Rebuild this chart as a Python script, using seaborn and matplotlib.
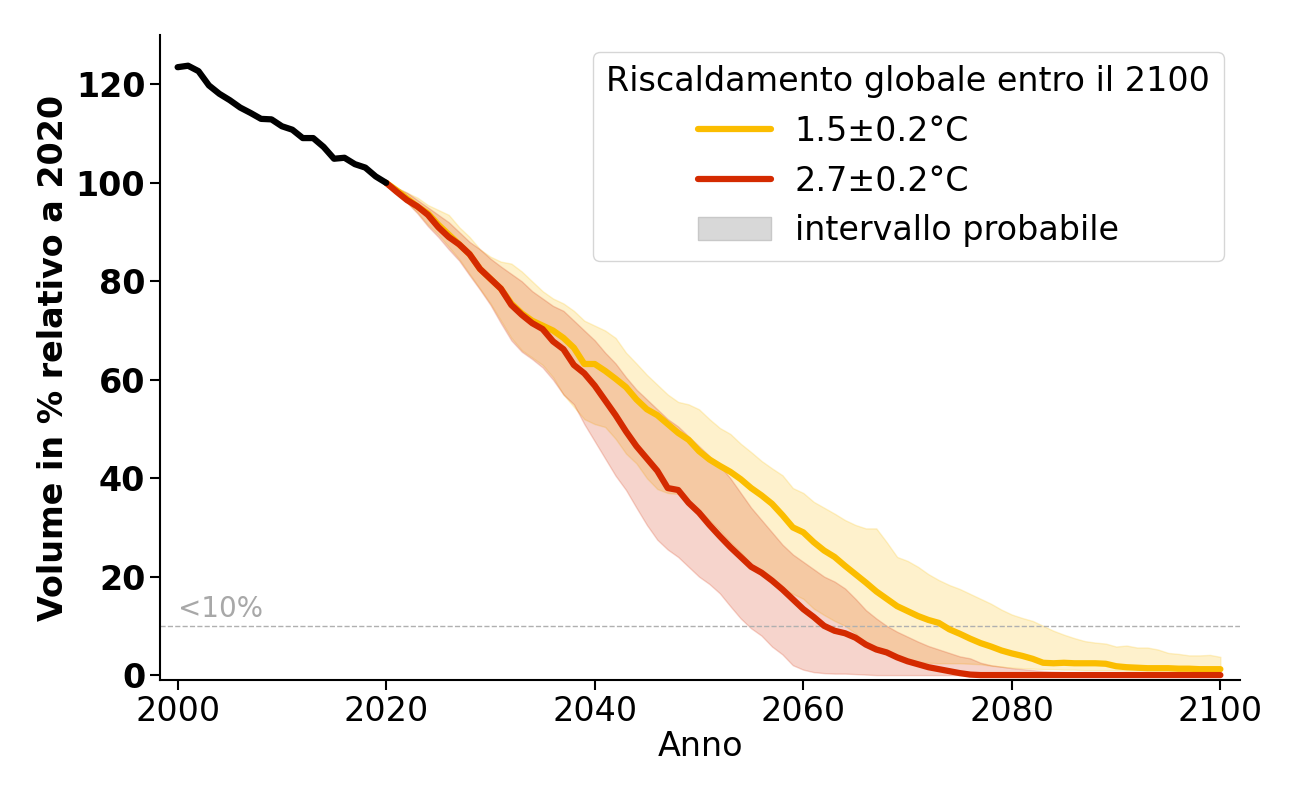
import matplotlib
matplotlib.use("Agg")
import matplotlib.pyplot as plt
from matplotlib.lines import Line2D
from matplotlib.patches import Patch
import seaborn as sns
import pandas as pd

# historical volume (2000-2020)
hist_years = list(range(2000, 2021))
hist_vol = [123.5, 123.8, 122.7, 119.8, 118.1, 116.8, 115.3, 114.2, 113.0, 112.9,
            111.5, 110.8, 109.1, 109.1, 107.3, 104.9, 105.1, 103.8, 103.1, 101.3, 100.0]

# projections (2020-2100)
proj_years = list(range(2020, 2101))

low_mid = [100, 98.5, 96.8, 95.2, 93.8, 91.5, 89.5, 87.5, 85.5, 82.5,
           80.5, 78.5, 75.5, 73.5, 72, 71, 70, 68.5, 66.5, 63.2,
           63.2, 61.8, 60.2, 58.5, 56, 54, 52.8, 51, 49.2, 47.8,
           45.5, 43.8, 42.5, 41.3, 39.8, 38, 36.5, 34.8, 32.5, 30,
           29, 27, 25.3, 24, 22.2, 20.5, 18.8, 17, 15.5, 14,
           13, 12, 11.2, 10.6, 9.3, 8.4, 7.4, 6.5, 5.8, 5,
           4.4, 3.9, 3.3, 2.5, 2.4, 2.5, 2.4, 2.4, 2.4, 2.3,
           1.8, 1.6, 1.5, 1.4, 1.4, 1.4, 1.3, 1.3, 1.2, 1.2, 1.2]
low_hi = [100, 99, 98, 97, 95.5, 94.5, 93.5, 91, 89, 86.5,
          85, 84, 83.6, 82, 80, 78, 76.5, 75.5, 74, 72,
          71, 70, 68.5, 65.5, 63.3, 61, 59, 57, 55.5, 55,
          54, 52, 50.2, 49, 47, 45.3, 43.5, 42, 40.6, 38,
          37, 35.2, 34, 32.8, 31.5, 30.5, 29.8, 29.8, 27, 24,
          23.2, 22, 20.5, 19.3, 18.3, 17.5, 16.5, 15.5, 14.5, 13.3,
          12.3, 11.6, 11, 10, 9, 8.2, 7.5, 6.9, 6.6, 6.4,
          5.8, 6, 5.6, 5.6, 5.2, 4.5, 4.3, 4, 4, 4.1, 3.7]
low_lo = [100, 98, 96, 94, 91.5, 89.5, 87, 84.5, 81.5, 78.5,
          75.5, 72, 68.5, 66, 64.5, 63, 60.5, 57, 54.5, 52,
          51, 50.4, 48, 45, 43, 40, 37.8, 37, 36.8, 35,
          33.5, 31.5, 29.4, 27, 25, 22.5, 20.5, 19, 17.5, 16.5,
          15.5, 13.5, 12.2, 11, 10, 8.5, 6.5, 5.1, 4.2, 3.4,
          2.9, 2.6, 2.5, 2.4, 2.4, 2.4, 2.3, 2.2, 1.9, 1.7,
          1.5, 1.4, 1.3, 1.2, 1.2, 1.1, 1.1, 1.0, 1.0, 1.0,
          1.0, 0.9, 0.9, 0.9, 0.9, 0.9, 0.8, 0.8, 0.8, 0.8, 0.8]

high_mid = [100, 98.2, 96.5, 95.2, 93.5, 91, 89, 87.5, 85.5, 82.5,
            80.5, 78.5, 75.2, 73.2, 71.5, 70.3, 67.8, 66.2, 63, 61.3,
            58.8, 55.8, 52.8, 49.5, 46.5, 44, 41.5, 38, 37.6, 35,
            33, 30.5, 28.2, 26, 24, 22, 20.8, 19.2, 17.4, 15.4,
            13.4, 11.8, 10, 9, 8.5, 7.6, 6.2, 5.2, 4.6, 3.6,
            2.8, 2.2, 1.6, 1.2, 0.8, 0.4, 0.1, 0, 0, 0,
            0, 0, 0, 0, 0, 0, 0, 0, 0, 0,
            0, 0, 0, 0, 0, 0, 0, 0, 0, 0, 0]
high_hi = [100, 99, 98, 96.5, 95, 93.5, 92, 90, 88, 86.5,
           84.6, 83, 81.5, 80, 78, 76.5, 75, 74, 72, 70,
           68, 65.5, 63.3, 60.5, 58, 56, 54, 52, 50.5, 48.5,
           46.5, 44.5, 42.5, 40, 37, 34, 31.5, 29, 26.5, 24.5,
           23, 21.5, 20, 19, 17.6, 15.5, 13.2, 11.5, 10, 8.8,
           7.8, 6.8, 5.9, 5.2, 4.5, 3.8, 3.4, 2.5, 2, 1.7,
           1.4, 1.2, 1, 0.8, 0.7, 0.6, 0.5, 0.4, 0.3, 0.3,
           0.2, 0.2, 0.1, 0.1, 0.1, 0.1, 0, 0, 0, 0, 0]
high_lo = [100, 98, 96, 93.8, 91.2, 89, 86.5, 84.2, 81.2, 78.3,
           75.2, 71.5, 68, 65.7, 64.2, 62.5, 60, 57, 55, 51,
           47.5, 44, 40.5, 37.6, 34, 30.5, 27.5, 25.5, 24, 22,
           20, 18.5, 16.6, 14, 11.5, 9.5, 8, 5.8, 4.2, 2,
           1.1, 0.6, 0.4, 0.3, 0.3, 0.2, 0.1, 0, 0, 0,
           0, 0, 0, 0, 0, 0, 0, 0, 0, 0,
           0, 0, 0, 0, 0, 0, 0, 0, 0, 0,
           0, 0, 0, 0, 0, 0, 0, 0, 0, 0, 0]

labels = ["1.5±0.2°C", "2.7±0.2°C"]
colors = ["#fbbd00", "#d42a00"]

hist = pd.DataFrame({"year": hist_years, "vol": hist_vol})
proj = pd.DataFrame({"year": proj_years * 2,
                     "vol": low_mid + high_mid,
                     "scen": [labels[0]] * len(proj_years) + [labels[1]] * len(proj_years)})

sns.set_style("ticks")
plt.rcParams["font.family"] = ["DejaVu Sans"]
plt.rcParams.update({"text.color": "black", "axes.labelcolor": "black",
                     "xtick.color": "black", "ytick.color": "black",
                     "axes.edgecolor": "black"})

fig = plt.figure(figsize=(13, 8), dpi=100)
ax = fig.add_axes([0.123, 0.15, 0.831, 0.806])

ax.fill_between(proj_years, low_lo, low_hi, color=colors[0], alpha=0.2, lw=1)
ax.fill_between(proj_years, high_lo, high_hi, color=colors[1], alpha=0.2, lw=1)

ax.axhline(10, color="#b0b0b0", lw=1, ls="--", zorder=1)
ax.text(2000, 10.6, "<10%", color="#a8a8a8", fontsize=20, va="bottom", ha="left")

sns.lineplot(data=proj, x="year", y="vol", hue="scen", palette=colors,
             lw=4.5, ax=ax, legend=False)
sns.lineplot(data=hist, x="year", y="vol", color="black", lw=4.5, ax=ax)

ax.set_xlim(1998.3, 2101.9)
ax.set_ylim(-1, 130)
ax.set_xticks([2000, 2020, 2040, 2060, 2080, 2100])
ax.set_yticks([0, 20, 40, 60, 80, 100, 120])
ax.tick_params(axis="both", labelsize=24, length=7, width=1.5)
for t in ax.get_yticklabels():
    t.set_fontweight("bold")
ax.set_xlabel("Anno", fontsize=24, labelpad=2)
ax.set_ylabel("Volume in % relativo a 2020", fontsize=24, fontweight="bold")
for s in ["left", "bottom"]:
    ax.spines[s].set_linewidth(1.5)
sns.despine(ax=ax)

handles = [Line2D([], [], color=colors[0], lw=4.5),
           Line2D([], [], color=colors[1], lw=4.5),
           Patch(facecolor="#d8d8d8", edgecolor="#c8c8c8")]
leg = ax.legend(handles, labels + ["intervallo probabile"],
                title="Riscaldamento globale entro il 2100",
                fontsize=24, title_fontsize=24, loc="upper right",
                alignment="center", handlelength=2.2, handletextpad=0.7)

fig.savefig("out.png", dpi=100)
